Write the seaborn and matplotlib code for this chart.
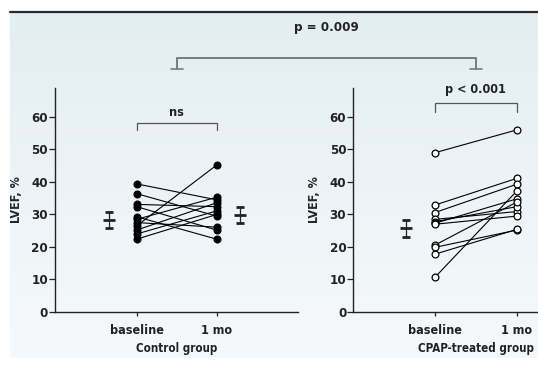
import numpy as np
import pandas as pd
import matplotlib
matplotlib.use("Agg")
import matplotlib.pyplot as plt
from matplotlib.lines import Line2D
from matplotlib import font_manager
import matplotlib.transforms as mtransforms
import seaborn as sns

# LVEF (%) per patient, baseline and after 1 month
time_labels = ["baseline", "1 mo"]
control_baseline = [39.3, 36.3, 33.0, 32.3, 29.2, 28.4, 27.4, 26.4, 25.1, 23.9, 22.3]
control_1mo = [34.4, 29.4, 32.3, 25.1, 22.3, 35.2, 26.0, 45.1, 33.5, 31.0, 29.9]
cpap_baseline = [48.9, 32.8, 30.5, 28.4, 27.7, 27.2, 26.9, 20.5, 19.8, 17.7, 10.6]
cpap_1mo = [55.9, 41.0, 39.2, 30.8, 32.3, 34.7, 29.4, 33.7, 25.1, 25.3, 37.1]

# group means +- error bars
control_mean = [28.2, 29.8]
control_err = [2.4, 2.45]
cpap_mean = [25.7]
cpap_err = [2.6]

group_names = ["Control group", "CPAP-treated group"]
pvals = ["ns", "p < 0.001", "p = 0.009"]


def long_frame(base, after):
    n = len(base)
    return pd.DataFrame({
        "subject": list(range(n)) * 2,
        "x": [0] * n + [1] * n,
        "value": list(base) + list(after),
    })


sns.set_style("ticks")
names = {f.name for f in font_manager.fontManager.ttflist}
narrow = [n for n in ["Liberation Sans Narrow", "DejaVu Sans Condensed"] if n in names]
plt.rcParams["font.family"] = narrow + ["DejaVu Sans"]
plt.rcParams["font.stretch"] = "condensed"
plt.rcParams["font.weight"] = "bold"
plt.rcParams["axes.labelweight"] = "bold"

W, H = 538, 375
fig = plt.figure(figsize=(W / 100, H / 100), dpi=100)

# light blue gradient panel behind everything
bg = fig.add_axes([10 / W, (H - 358) / H, (W - 10) / W, (358 - 12) / H], zorder=-10)
grad = np.linspace(0, 1, 256).reshape(-1, 1)
cmap = matplotlib.colors.LinearSegmentedColormap.from_list("bg", ["#e3eef2", "#f6f9fb"])
bg.imshow(grad, aspect="auto", cmap=cmap, extent=[0, 1, 0, 1], origin="upper")
bg.axis("off")
fig.add_artist(Line2D([10 / W, 1], [1 - 11.5 / H, 1 - 11.5 / H], color="#2b2b2b", lw=1.6))

ax1 = fig.add_axes([55 / W, (H - 311.7) / H, 243 / W, 223.4 / H])
ax2 = fig.add_axes([353.3 / W, (H - 311.7) / H, (W - 353.3) / W, 223.4 / H])

panels = [
    (ax1, long_frame(control_baseline, control_1mo), "black", (-1.021, 2.016)),
    (ax2, long_frame(cpap_baseline, cpap_1mo), "white", (-1.0, 1.26)),
]

for ax, df, face, xlim in panels:
    ax.set_facecolor("none")
    sns.lineplot(data=df, x="x", y="value", units="subject", estimator=None,
                 color="black", lw=0.8, legend=False, ax=ax)
    sns.scatterplot(data=df, x="x", y="value", color=face, edgecolor="black",
                    linewidth=0.9, s=24, zorder=5, legend=False, ax=ax)
    ax.set_xlim(*xlim)
    ax.set_ylim(0, 68.7)
    ax.set_yticks(range(0, 61, 10))
    ax.set_xticks([0, 1])
    ax.set_xticklabels(time_labels)
    ax.set_xlabel("")
    ax.set_ylabel("LVEF, %", fontsize=9, labelpad=6)
    sns.despine(ax=ax)
    for s in ["left", "bottom"]:
        ax.spines[s].set_color("#222222")
        ax.spines[s].set_linewidth(1.0)
    ax.tick_params(axis="y", length=4, width=0.9, pad=1, labelsize=9.5, colors="#222222")
    ax.tick_params(axis="x", length=3, width=0.9, pad=6, labelsize=9, colors="#222222")

# mean +- error markers
ax1.errorbar([-0.34, 1.29], control_mean, yerr=control_err, fmt="_", color="#222222",
             ms=9, mew=2, elinewidth=0.9, capsize=3, capthick=0.9)
ax2.errorbar([-0.35], cpap_mean, yerr=cpap_err, fmt="_", color="#222222",
             ms=9, mew=2, elinewidth=0.9, capsize=3, capthick=0.9)

# group names under the axes, centred between the two time points
for ax, name in zip([ax1, ax2], group_names):
    tr = mtransforms.blended_transform_factory(ax.transData, ax.transAxes)
    ax.text(0.5, -0.165, name, transform=tr, ha="center", va="center",
            fontsize=8.3, fontweight="bold", color="#222222")

# within-group brackets
for ax, label, y_bar, y_foot, y_txt in [(ax1, pvals[0], 58.0, 55.9, 61.3),
                                         (ax2, pvals[1], 64.1, 61.5, 68.2)]:
    ax.plot([0, 0, 1, 1], [y_foot, y_bar, y_bar, y_foot], color="#555555",
            lw=0.9, clip_on=False)
    ax.text(0.5, y_txt, label, ha="center", va="center", fontsize=9,
            fontweight="bold", color="#222222", clip_on=False)

# between-group bracket in figure coordinates
inv = fig.transFigure.inverted()
xl = inv.transform(ax1.transData.transform((0.5, 0)))[0]
xr = inv.transform(ax2.transData.transform((0.5, 0)))[0]
yb = 1 - 57.7 / H
yf = 1 - 69.3 / H
fig.add_artist(Line2D([xl, xl, xr, xr], [yf, yb, yb, yf], color="#7a7a7a", lw=1.4))
foot = 6 / W
for xc in (xl, xr):
    fig.add_artist(Line2D([xc - foot, xc + foot], [yf, yf], color="#7a7a7a", lw=1.2))
fig.text((xl + xr) / 2, 1 - 28 / H, pvals[2], ha="center", va="center",
         fontsize=9.5, fontweight="bold", color="#222222")

fig.savefig("out.png", dpi=100)
